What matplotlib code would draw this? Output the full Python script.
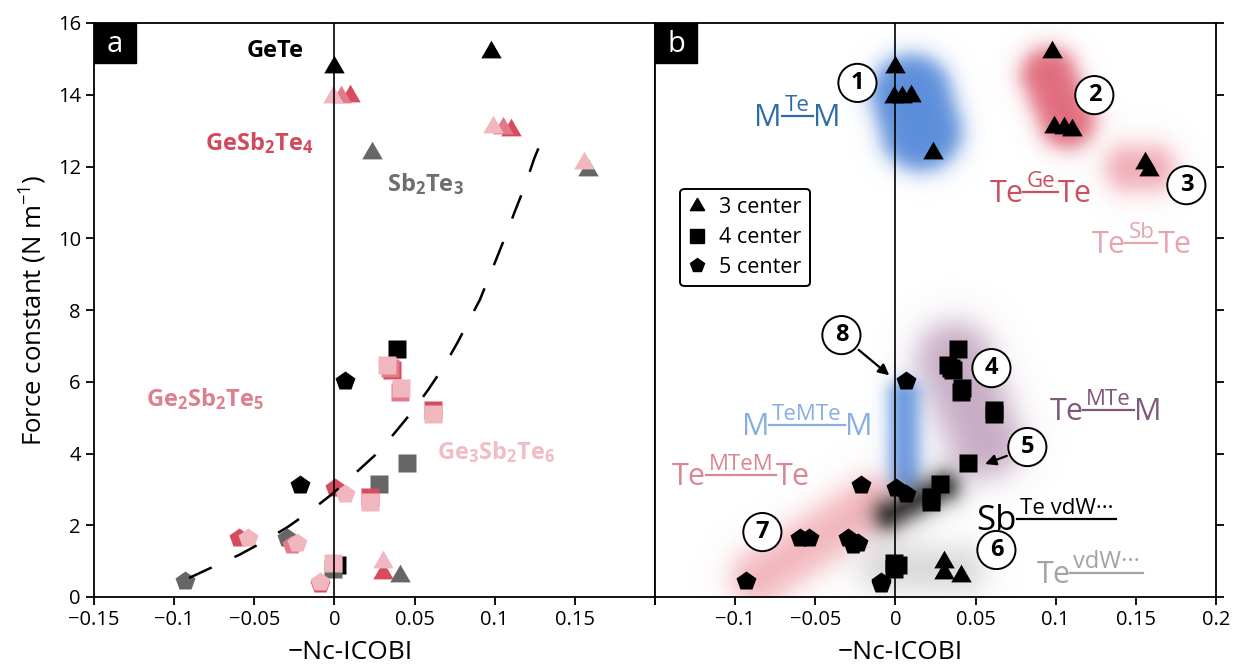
"""Force constant vs -Nc-ICOBI for Ge-Sb-Te phases (two panels)."""

import matplotlib

matplotlib.use("Agg")
import matplotlib.pyplot as plt
import numpy as np
from matplotlib.lines import Line2D
from matplotlib.patches import Rectangle
from matplotlib.transforms import offset_copy

plt.rcParams["font.family"] = ["Open Sans", "DejaVu Sans"]
plt.rcParams["mathtext.default"] = "regular"
plt.rcParams["axes.linewidth"] = 1.3

# ---- data ---------------------------------------------------------------
compounds = ["GeTe", "Sb2Te3", "GeSb2Te4", "Ge2Sb2Te5", "Ge3Sb2Te6"]
colors = ["#000000", "#666666", "#d64b5e", "#e27a88", "#f1b7bf"]

# 3-center bonds (triangles)
tri_icobi = {
    "GeTe": [0.0, 0.0976],
    "Sb2Te3": [0.0234, 0.158, 0.0408],
    "GeSb2Te4": [0.0097, 0.110, 0.030],
    "Ge2Sb2Te5": [0.004, 0.105],
    "Ge3Sb2Te6": [-0.001, 0.0989, 0.1556, 0.030],
}
tri_force = {
    "GeTe": [14.77, 15.19],
    "Sb2Te3": [12.38, 11.90, 0.59],
    "GeSb2Te4": [13.97, 13.02, 0.67],
    "Ge2Sb2Te5": [13.94, 13.07],
    "Ge3Sb2Te6": [13.94, 13.10, 12.10, 0.98],
}
# 4-center bonds (squares)
sq_icobi = {
    "GeTe": [0.039, 0.0016],
    "Sb2Te3": [0.0452, 0.0278, -0.001],
    "GeSb2Te4": [0.036, 0.0614, 0.0221],
    "Ge2Sb2Te5": [0.0346, 0.0409],
    "Ge3Sb2Te6": [0.0328, 0.0415, 0.0614, 0.0221, -0.001],
}
sq_force = {
    "GeTe": [6.91, 0.89],
    "Sb2Te3": [3.74, 3.15, 0.78],
    "GeSb2Te4": [6.33, 5.21, 2.79],
    "Ge2Sb2Te5": [6.38, 5.71],
    "Ge3Sb2Te6": [6.47, 5.83, 5.10, 2.65, 0.95],
}
# 5-center bonds (pentagons)
pent_icobi = {
    "GeTe": [0.0066, -0.0215],
    "Sb2Te3": [-0.0933, -0.0296],
    "GeSb2Te4": [0.0003, -0.0596, -0.009],
    "Ge2Sb2Te5": [-0.0265],
    "Ge3Sb2Te6": [0.0066, -0.054, -0.0234, -0.009],
}
pent_force = {
    "GeTe": [6.02, 3.12],
    "Sb2Te3": [0.45, 1.64],
    "GeSb2Te4": [3.04, 1.64, 0.36],
    "Ge2Sb2Te5": [1.45],
    "Ge3Sb2Te6": [2.87, 1.64, 1.50, 0.42],
}

# dashed guide curve (panel a)
trend_icobi = [-0.0907, -0.0758, -0.0596, -0.0447, -0.0292, -0.0149, -0.0006,
               0.0118, 0.0255, 0.0366, 0.0484, 0.0584, 0.0689, 0.077, 0.0857,
               0.0907, 0.100, 0.1062, 0.1124, 0.1186, 0.1248, 0.1286]
trend_force = [0.53, 0.84, 1.17, 1.53, 1.95, 2.40, 2.90, 3.40, 3.96, 4.52,
               5.16, 5.77, 6.47, 7.11, 7.86, 8.28, 9.31, 10.0, 10.73, 11.43,
               12.24, 12.65]

xticks_a = [-0.15, -0.1, -0.05, 0, 0.05, 0.1, 0.15, 0.2]
xlabels_a = ["−0.15", "−0.1", "−0.05", "0", "0.05", "0.1", "0.15", ""]
xticks_b = [-0.15, -0.1, -0.05, 0, 0.05, 0.1, 0.15, 0.2]
xlabels_b = ["", "−0.1", "−0.05", "0", "0.05", "0.1", "0.15", "0.2"]
yticks = [0, 2, 4, 6, 8, 10, 12, 14, 16]

markers = {"tri": (3, 0, 0), "sq": "s", "pent": "p"}
msizes = {"tri": 17, "sq": 13.5, "pent": 15}
sets = [("tri", tri_icobi, tri_force), ("sq", sq_icobi, sq_force),
        ("pent", pent_icobi, pent_force)]

# ---- figure ---------------------------------------------------------------
W, H = 1234, 666
fig = plt.figure(figsize=(W / 100, H / 100), dpi=100)
ax_a = fig.add_axes([94 / W, 69 / H, 561 / W, 574 / H])
ax_b = fig.add_axes([655 / W, 69 / H, 561 / W, 574 / H])

for ax in (ax_a, ax_b):
    ax.set_xlim(-0.15, 0.2)
    ax.set_ylim(0, 16)
    ax.axvline(0, color="black", lw=1.2, zorder=5)
    ax.tick_params(direction="out", length=6, width=1.3, labelsize=14.5)
    ax.set_xlabel("−Nc-ICOBI", fontsize=19)
    ax.set_yticks(yticks)

ax_a.xaxis.set_label_coords(0.456, -0.075)
ax_b.xaxis.set_label_coords(0.437, -0.075)
ax_a.set_xticks(xticks_a, xlabels_a)
ax_b.set_xticks(xticks_b, xlabels_b)
ax_a.set_yticklabels([str(t) for t in yticks])
ax_a.set_ylabel("Force constant (N m$^{-1}$)", fontsize=18.5, labelpad=6)
ax_b.yaxis.tick_right()
ax_b.tick_params(axis="y", labelright=False)

# panel a: coloured by compound
for name, col in zip(compounds, colors):
    for kind, xs, ys in sets:
        ax_a.plot(xs[name], ys[name], ls="none", marker=markers[kind],
                  ms=msizes[kind], color=col, mec="none", zorder=3)

ax_a.plot(trend_icobi, trend_force, color="black", lw=1.8, dashes=(10, 10),
          zorder=6)

a_labels = [("GeTe", 275, 51, "#000000"),
            ("GeSb$_2$Te$_4$", 259, 143, "#d04a5c"),
            ("Sb$_2$Te$_3$", 425, 184, "#6e6e6e"),
            ("Ge$_2$Sb$_2$Te$_5$", 205, 399, "#de7f8c"),
            ("Ge$_3$Sb$_2$Te$_6$", 496, 452, "#f2bcc4")]
for txt, px, py, col in a_labels:
    ax_a.text((px - 94) / 561, (597 - py) / 574, txt, transform=ax_a.transAxes,
              ha="center", va="center", fontsize=17, fontweight="bold",
              color=col, zorder=7)

# panel b: every point in black
for kind, xs, ys in sets:
    allx = np.concatenate([xs[n] for n in compounds])
    ally = np.concatenate([ys[n] for n in compounds])
    ax_b.plot(allx, ally, ls="none", marker=markers[kind], ms=msizes[kind],
              color="black", mec="none", zorder=3)

# soft coloured regions in panel b (segment start, end, radius px, softness)
blobs = [
    ((0.010, 14.0), (0.0162, 13.02), 40, 6, "#5b8ddb", 1.0),
    ((0.096, 14.55), (0.1073, 13.3), 27, 6, "#e06b7c", 1.0),
    ((0.146, 11.96), (0.160, 11.96), 22, 7, "#efa3ae", 0.9),
    ((0.0368, 6.6), (0.0555, 4.38), 36, 9, "#b48fb0", 0.75),
    ((0.0056, 5.6), (0.0056, 3.4), 15, 5, "#6a9ae0", 1.0),
    ((-0.0848, 0.53), (-0.0162, 2.56), 26, 8, "#efa9b2", 0.85),
    ((-0.006, 0.80), (0.040, 0.75), 22, 9, "#a8a8a8", 0.45),
    ((-0.0037, 2.29), (0.0306, 3.07), 13, 6, "#1e1e1e", 0.95),
]
bb = ax_b.get_window_extent()
nx, ny = int(bb.width), int(bb.height)
sx, sy = bb.width / 0.35, bb.height / 16.0
gx, gy = np.meshgrid(np.linspace(-0.15, 0.2, nx), np.linspace(0, 16, ny))
for (x0, y0), (x1, y1), rad, soft, col, amax in blobs:
    px, py = gx * sx, gy * sy
    ax0, ay0, ax1, ay1 = x0 * sx, y0 * sy, x1 * sx, y1 * sy
    dx, dy = ax1 - ax0, ay1 - ay0
    t = np.clip(((px - ax0) * dx + (py - ay0) * dy) / (dx * dx + dy * dy), 0, 1)
    d = np.hypot(px - (ax0 + t * dx), py - (ay0 + t * dy))
    alpha = amax / (1 + np.exp((d - rad) / soft))
    rgba = np.zeros((ny, nx, 4))
    rgba[..., :3] = matplotlib.colors.to_rgb(col)
    rgba[..., 3] = alpha
    ax_b.imshow(rgba, extent=[-0.15, 0.2, 0, 16], origin="lower",
                aspect="auto", interpolation="bilinear", zorder=1)
ax_b.set_xlim(-0.15, 0.2)
ax_b.set_ylim(0, 16)

renderer = fig.canvas.get_renderer()


def bond_label(ax, x, y, left, top, right, color, big=22, small=16):
    """Draw 'left' + small 'top' over a bar + 'right' (bond notation)."""
    cap = big * 0.714 * fig.dpi / 72
    ly = 0.45 * cap
    pad = 3
    t1 = ax.text(x, y, left, color=color, fontsize=big, va="baseline",
                 zorder=7)
    w1 = t1.get_window_extent(renderer).width
    tr = offset_copy(ax.transData, fig=fig, x=w1 + pad, y=ly + 5, units="dots")
    t2 = ax.text(x, y, top, color=color, fontsize=small, va="baseline",
                 transform=tr, zorder=7)
    w2 = t2.get_window_extent(renderer).width
    X0, Y0 = ax.transData.transform((x, y))
    pts = ax.transAxes.inverted().transform(
        [(X0 + w1, Y0 + ly), (X0 + w1 + w2 + 2 * pad, Y0 + ly)])
    ax.add_line(Line2D(pts[:, 0], pts[:, 1], color=color, lw=1.6,
                       transform=ax.transAxes, zorder=7))
    if right:
        tr3 = offset_copy(ax.transData, fig=fig, x=w1 + w2 + 2 * pad, y=0,
                          units="dots")
        ax.text(x, y, right, color=color, fontsize=big, va="baseline",
                transform=tr3, zorder=7)


bond_label(ax_b, -0.088, 13.13, "M", "Te", "M", "#2f6ca6")
bond_label(ax_b, 0.0586, 11.01, "Te", "Ge", "Te", "#c9505f")
bond_label(ax_b, 0.1223, 9.59, "Te", "Sb", "Te", "#e8a3ad")
bond_label(ax_b, 0.096, 4.93, "Te", "MTe", "M", "#7e5878")
bond_label(ax_b, -0.096, 4.52, "M", "TeMTe", "M", "#86aee0")
bond_label(ax_b, -0.1397, 3.12, "Te", "MTeM", "Te", "#d98592")
bond_label(ax_b, 0.0505, 1.87, "Sb", "Te vdW···", "", "#000000", big=25)
bond_label(ax_b, 0.088, 0.39, "Te", "vdW···", "", "#a3a3a3", small=17)

circles = [("1", -0.0237, 14.33), ("2", 0.1241, 13.99), ("3", 0.1815, 11.48),
           ("4", 0.0599, 6.38), ("5", 0.0823, 4.18), ("6", 0.063, 1.31),
           ("7", -0.083, 1.81), ("8", -0.0337, 7.30)]
for num, cx, cy in circles:
    ax_b.text(cx, cy, num, ha="center", va="center", fontsize=17,
              fontweight="bold", zorder=8,
              bbox=dict(boxstyle="circle,pad=0.3", fc="white", ec="black",
                        lw=1.4))

ax_b.annotate("", xy=(-0.0025, 6.13), xytext=(-0.0243, 6.94),
              arrowprops=dict(arrowstyle="-|>", color="black", lw=1.6,
                              mutation_scale=16), zorder=8)
ax_b.annotate("", xy=(0.0543, 3.68), xytext=(0.0711, 3.96),
              arrowprops=dict(arrowstyle="-|>", color="black", lw=1.6,
                              mutation_scale=16), zorder=8)

handles = [Line2D([], [], ls="none", marker=markers[k], color="black",
                  ms=msizes[k] * 0.7) for k in ("tri", "sq", "pent")]
leg = ax_b.legend(handles, ["3 center", "4 center", "5 center"],
                  loc="upper left", bbox_to_anchor=(0.045, 0.711),
                  borderaxespad=0, fontsize=15.5, handlelength=0.8,
                  handletextpad=0.6, labelspacing=0.4, borderpad=0.4,
                  frameon=True, fancybox=True, edgecolor="black")
leg.get_frame().set_linewidth(1.4)
leg.get_frame().set_alpha(1)

# panel tags
for ax, tag in ((ax_a, "a"), (ax_b, "b")):
    ax.add_patch(Rectangle((0, 1 - 40 / 574), 42 / 561, 40 / 574,
                           transform=ax.transAxes, color="black", zorder=9))
    ax.text(21 / 561, 1 - 21 / 574, tag, transform=ax.transAxes, color="white",
            ha="center", va="center", fontsize=21, zorder=10)

fig.savefig("out.png", dpi=100)
